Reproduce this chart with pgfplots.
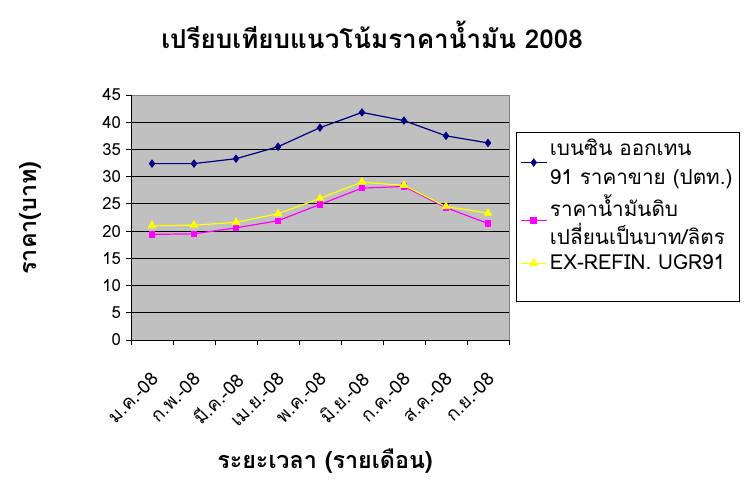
\documentclass[border=0pt]{standalone}
\usepackage{pgfplots}
\pgfplotsset{compat=1.18}
\usepackage{fontspec}
\setmainfont[Script=Thai]{Loma}
\definecolor{bggray}{HTML}{C0C0C0}
\definecolor{navy}{HTML}{000080}
\definecolor{mag}{HTML}{FF00FF}
\definecolor{yel}{HTML}{FFFF00}
\begin{document}
\begin{tikzpicture}[x=0.75pt,y=0.75pt]
\path[use as bounding box] (0,0) rectangle (744,483);
\node[font=\bfseries\fontsize{19.5}{22}\selectfont] at (372,448) {เปรียบเทียบแนวโน้มราคาน้ำมัน 2008};
\node[font=\bfseries\fontsize{17.5}{20}\selectfont] at (325,22) {ระยะเวลา (รายเดือน)};
\node[font=\bfseries\fontsize{17.5}{20}\selectfont, rotate=90] at (30,265) {ราคา(บาท)};
\begin{axis}[
  at={(98.25pt,107.25pt)}, anchor=south west,
  scale only axis, width=283.5pt, height=183.75pt,
  xmin=-0.5, xmax=8.5, ymin=0, ymax=45,
  ytick={0,5,...,40}, extra y ticks={45}, extra y tick style={grid=none},
  ymajorgrids, grid style={black, line width=0.6pt},
  axis background/.style={fill=bggray, draw=gray},
  axis x line*=bottom, axis y line*=left,
  axis line style={black, line width=0.6pt},
  tick align=outside, tick style={black, line width=0.6pt},
  major tick length=4pt,
  xtick={0,...,8},
  xticklabels={ม.ค.-08,ก.พ.-08,มี.ค.-08,เม.ย.-08,พ.ค.-08,มิ.ย.-08,ก.ค.-08,ส.ค.-08,ก.ย.-08},
  major x tick style={draw=none},
  minor xtick={-0.5,0.5,...,8.5},
  minor tick length=4pt,
  x tick label style={rotate=45, anchor=north east, font=\fontsize{14}{16}\selectfont, yshift=-9pt, xshift=-11pt},
  y tick label style={font=\fontsize{12.5}{14}\selectfont},
  /pgf/number format/assume math mode=true,
  legend style={at={(1.0185,0.849)}, anchor=north west, draw=black, fill=white,
    font=\fontsize{15.5}{21.5}\selectfont, cells={anchor=west, align=left},
    inner sep=3pt, row sep=2pt},
  legend image code/.code={
    \draw[mark repeat=2,mark phase=2] plot coordinates {(0cm,0cm) (0.34cm,0cm) (0.68cm,0cm)};},
]
\addplot[navy, line width=0.9pt, mark=diamond*, mark size=2.5pt, mark options={fill=navy}] coordinates {
(0,32.4) (1,32.4) (2,33.3) (3,35.5) (4,39.0) (5,41.8) (6,40.3) (7,37.5) (8,36.2)};
\addlegendentry{เบนซิน ออกเทน\\91 ราคาขาย (ปตท.)}
\addplot[mag, line width=0.9pt, mark=square*, mark size=2pt, mark options={fill=mag}] coordinates {
(0,19.4) (1,19.5) (2,20.6) (3,21.9) (4,24.9) (5,27.9) (6,28.2) (7,24.3) (8,21.4)};
\addlegendentry{ราคาน้ำมันดิบ\\เปลี่ยนเป็นบาท/ลิตร}
\addplot[yel, line width=0.9pt, mark=triangle*, mark size=3pt, mark options={fill=yel}] coordinates {
(0,21.0) (1,21.1) (2,21.6) (3,23.2) (4,26.0) (5,29.0) (6,28.4) (7,24.5) (8,23.3)};
\addlegendentry{EX-REFIN. UGR91}
\addlegendimage{empty legend}
\addlegendentry{\rule{0pt}{10pt}}
\end{axis}
\end{tikzpicture}
\end{document}
